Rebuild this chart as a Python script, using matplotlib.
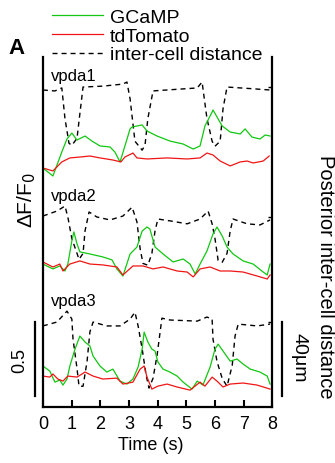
import numpy as np
import matplotlib.pyplot as plt

plt.rcParams['font.family'] = ['Liberation Sans', 'DejaVu Sans']

# ---- data ----
# GCaMP / tdTomato: dF/F0 relative to start of trace; distance in um
vpda1_t_g = np.array([0.00, 0.35, 0.66, 0.84, 1.01, 1.19, 1.47, 1.71, 1.99, 2.34, 2.51, 2.69, 2.86, 3.04, 3.11,
                      3.46, 3.63, 3.98, 4.43, 4.89, 5.24, 5.48, 5.65, 5.90, 5.93, 6.07, 6.25, 6.53, 6.88, 7.05,
                      7.29, 7.57, 7.75, 7.92])
vpda1_gcamp = np.array([0.00, -0.054, 0.108, 0.196, 0.236, 0.189, 0.216, 0.182, 0.149, 0.142, 0.108, 0.041, 0.149,
                        0.264, 0.277, 0.291, 0.25, 0.216, 0.182, 0.162, 0.128, 0.149, 0.284, 0.378, 0.392, 0.345,
                        0.284, 0.243, 0.230, 0.264, 0.209, 0.196, 0.223, 0.216])
vpda1_t_r = np.array([0.00, 0.35, 0.66, 0.94, 1.29, 1.64, 1.99, 2.44, 2.72, 2.86, 3.14, 3.28, 3.63, 4.33, 5.03,
                      5.48, 5.72, 5.93, 6.18, 6.53, 6.88, 7.12, 7.33, 7.68, 7.89])
vpda1_tdtomato = np.array([0.00, -0.020, 0.041, 0.068, 0.074, 0.081, 0.068, 0.054, 0.041, 0.074, 0.101, 0.068,
                           0.061, 0.068, 0.061, 0.068, 0.101, 0.088, 0.047, 0.014, 0.041, 0.047, 0.034, 0.047,
                           0.081])
vpda1_t_d = np.array([0.00, 0.42, 0.66, 0.77, 0.91, 1.01, 1.19, 1.29, 1.40, 2.10, 2.79, 2.93, 3.04, 3.21, 3.46,
                      3.56, 3.66, 3.84, 4.60, 5.38, 5.55, 5.72, 5.90, 6.00, 6.18, 6.28, 6.42, 7.20, 7.92])
vpda1_dist = np.array([38.4, 37.9, 39.5, 23.0, 9.6, 8.5, 12.3, 25.6, 40.0, 40.5, 41.6, 42.7, 33.6, 10.7, 5.9,
                       8.5, 23.0, 37.9, 38.7, 39.5, 42.7, 23.0, 10.7, 8.0, 10.7, 28.3, 40.0, 39.2, 38.4])

vpda2_t_g = np.array([0.00, 0.35, 0.59, 0.77, 0.87, 1.01, 1.08, 1.19, 1.29, 1.64, 2.09, 2.41, 2.58, 2.79, 3.04,
                      3.28, 3.46, 3.63, 3.73, 3.91, 4.19, 4.54, 4.89, 5.13, 5.31, 5.48, 5.72, 5.93, 6.07, 6.25,
                      6.42, 6.63, 6.98, 7.33, 7.68, 7.82, 7.92])
vpda2_gcamp = np.array([-0.014, -0.047, -0.027, -0.061, -0.014, 0.142, 0.203, 0.122, 0.068, 0.054, 0.034, 0.014,
                        -0.047, -0.095, 0.054, 0.101, 0.209, 0.236, 0.223, 0.101, 0.054, 0.0, 0.020, -0.014,
                        -0.081, -0.014, 0.074, 0.189, 0.236, 0.176, 0.101, 0.054, 0.007, -0.014, -0.068, -0.088,
                        -0.014])
vpda2_t_r = np.array([0.00, 0.35, 0.59, 0.70, 0.94, 1.29, 1.64, 2.09, 2.58, 2.79, 3.14, 3.49, 3.84, 4.19, 4.68,
                      5.03, 5.24, 5.48, 5.83, 6.18, 6.53, 6.98, 7.47, 7.82, 7.92])
vpda2_tdtomato = np.array([0.00, -0.034, -0.014, -0.061, -0.014, 0.007, -0.014, -0.020, -0.034, -0.088, -0.027,
                           -0.027, -0.047, -0.034, -0.061, -0.068, -0.101, -0.047, -0.034, -0.061, -0.061, -0.068,
                           -0.095, -0.115, -0.088])
vpda2_t_d = np.array([0.00, 0.49, 0.77, 0.87, 1.01, 1.19, 1.26, 1.40, 1.47, 1.61, 1.88, 2.34, 2.79, 3.11, 3.28,
                      3.39, 3.49, 3.66, 3.80, 3.91, 4.01, 4.43, 5.03, 5.48, 5.76, 5.90, 6.00, 6.11, 6.25, 6.42,
                      6.53, 6.63, 7.12, 7.57, 7.92])
vpda2_dist = np.array([40.5, 43.2, 45.9, 40.0, 28.3, 20.3, 17.1, 20.3, 32.5, 42.7, 40.0, 38.4, 40.5, 45.3, 37.3,
                       22.9, 14.9, 13.9, 20.3, 32.5, 38.9, 37.9, 36.3, 38.9, 43.2, 36.3, 28.3, 16.5, 15.5, 20.3,
                       32.5, 38.9, 36.3, 35.7, 38.4])

vpda3_t_g = np.array([0.00, 0.24, 0.42, 0.59, 0.70, 0.84, 0.94, 1.12, 1.29, 1.47, 1.64, 1.75, 1.99, 2.23, 2.44,
                      2.69, 2.93, 3.14, 3.32, 3.46, 3.53, 3.66, 3.80, 3.91, 4.01, 4.19, 4.43, 4.68, 4.89, 5.20,
                      5.38, 5.58, 5.83, 6.00, 6.11, 6.28, 6.53, 6.77, 6.98, 7.23, 7.57, 7.82, 7.92])
vpda3_gcamp = np.array([0.068, 0.034, -0.041, -0.027, -0.061, -0.020, 0.068, 0.182, 0.270, 0.230, 0.203, 0.135,
                        0.068, 0.027, 0.047, -0.034, -0.054, -0.020, 0.061, 0.182, 0.297, 0.230, 0.182, 0.169,
                        0.095, 0.047, 0.027, 0.0, -0.041, -0.088, -0.034, -0.061, 0.061, 0.182, 0.216, 0.169,
                        0.101, 0.115, 0.081, 0.047, 0.027, 0.0, -0.054])
vpda3_t_r = np.array([0.00, 0.24, 0.35, 0.52, 0.70, 0.87, 1.19, 1.47, 1.75, 2.09, 2.58, 2.79, 3.14, 3.39, 3.53,
                      3.63, 3.80, 4.01, 4.33, 4.68, 5.13, 5.48, 5.65, 5.90, 6.07, 6.28, 6.53, 6.98, 7.47, 7.92])
vpda3_tdtomato = np.array([0.00, -0.007, 0.014, -0.020, -0.034, 0.0, -0.007, 0.027, 0.0, -0.020, -0.014, -0.054,
                           -0.041, 0.047, 0.068, -0.007, -0.088, -0.068, -0.054, -0.074, -0.095, -0.041, -0.068,
                           -0.007, -0.034, -0.074, -0.054, -0.047, -0.061, -0.088])
vpda3_t_d = np.array([0.00, 0.49, 0.84, 1.01, 1.05, 1.19, 1.26, 1.40, 1.54, 1.64, 1.75, 2.23, 2.69, 3.04, 3.21,
                      3.32, 3.46, 3.60, 3.70, 3.84, 3.98, 4.15, 4.43, 5.38, 5.72, 5.90, 5.93, 6.07, 6.25, 6.42,
                      6.60, 6.70, 6.81, 7.47, 7.92])
vpda3_dist = np.array([37.9, 40.0, 45.9, 41.6, 30.9, 14.9, 5.3, 5.3, 18.7, 34.7, 40.0, 37.9, 37.9, 41.6, 45.3,
                       37.9, 25.6, 11.2, 4.3, 9.6, 21.9, 42.1, 41.1, 40.5, 42.7, 41.6, 30.9, 18.7, 9.6, 5.3,
                       16.5, 32.5, 38.9, 37.9, 38.9])

cells = ['vpda1', 'vpda2', 'vpda3']
time_ticks = np.arange(0, 9)

# ---- layout ----
trace_offset = [1.615, 0.980, 0.209]     # dF/F0 baseline of each cell on the stacked axis
dist_ref = [2.162, 1.284, 0.574]         # where 40 um sits for each cell
name_y = [2.209, 1.399, 0.689]
um_scale = 0.5 / 40                      # 40 um drawn as tall as 0.5 dF/F0
green = '#11c711'
red = '#f01414'
dash = (0, (3.6, 2.9))
fs = 13

data = [
    (vpda1_t_g, vpda1_gcamp, vpda1_t_r, vpda1_tdtomato, vpda1_t_d, vpda1_dist),
    (vpda2_t_g, vpda2_gcamp, vpda2_t_r, vpda2_tdtomato, vpda2_t_d, vpda2_dist),
    (vpda3_t_g, vpda3_gcamp, vpda3_t_r, vpda3_tdtomato, vpda3_t_d, vpda3_dist),
]

fig = plt.figure(figsize=(3.35, 4.64), dpi=100)
ax = fig.add_axes([0.128, 0.1207, 0.685, 0.7543])

for i, (tg, g, tr, r, td, d) in enumerate(data):
    ax.plot(td, dist_ref[i] + (d - 40) * um_scale, color='black', lw=1.0, linestyle=dash,
            label='inter-cell distance' if i == 0 else None)
    ax.plot(tg, trace_offset[i] + g, color=green, lw=0.9, label='GCaMP' if i == 0 else None)
    ax.plot(tr, trace_offset[i] + r, color=red, lw=0.9, label='tdTomato' if i == 0 else None)
    ax.text(0.28, name_y[i], cells[i], fontsize=12, va='baseline', ha='left')

ax.set_xlim(0, 8)
ax.set_ylim(0, 2.365)
ax.set_xticks(time_ticks)
ax.set_yticks([])
ax.tick_params(axis='x', direction='in', length=5, width=1.5, labelsize=fs, pad=6)
ax.spines['top'].set_visible(False)
for s in ['left', 'right', 'bottom']:
    ax.spines[s].set_linewidth(1.6)
ax.set_xlabel('Time (s)', fontsize=fs)
ax.xaxis.set_label_coords(0.47, -0.083)

ax2 = ax.twinx()
ax2.set_ylim(0, 2.365)
ax2.set_yticks(dist_ref)
ax2.set_yticklabels([])
ax2.tick_params(axis='y', direction='in', length=3, width=1)
for s in ['top', 'left', 'bottom', 'right']:
    ax2.spines[s].set_visible(False)

# scale bars
ax.plot([-0.28, -0.28], [0.574, 0.074], color='black', lw=1.6, clip_on=False)
ax.text(-0.80, 0.318, '0.5', rotation=90, fontsize=fs, ha='center', va='center')
ax.plot([8.34, 8.34], [0.574, 0.574 - 40 * um_scale], color='black', lw=1.6, clip_on=False)
ax.text(8.92, 0.34, '40\u03bcm', rotation=270, fontsize=14, ha='center', va='center')

fig.text(0.080, 0.568, '\u0394F/F$_0$', rotation=90, fontsize=15, ha='center', va='center')
fig.text(0.973, 0.403, 'Posterior inter-cell distance', rotation=270, fontsize=14.5,
         ha='center', va='center')
fig.text(0.048, 0.896, 'A', fontsize=16, fontweight='bold', ha='center', va='center')

h, l = ax.get_legend_handles_labels()
order = [1, 2, 0]
fig.legend([h[k] for k in order], [l[k] for k in order], loc='upper left',
           bbox_to_anchor=(0.103, 1.018), frameon=False, fontsize=14, handlelength=2.63,
           handletextpad=0.36, labelspacing=0.06, borderpad=0.4)

fig.savefig('out.png', dpi=100)
